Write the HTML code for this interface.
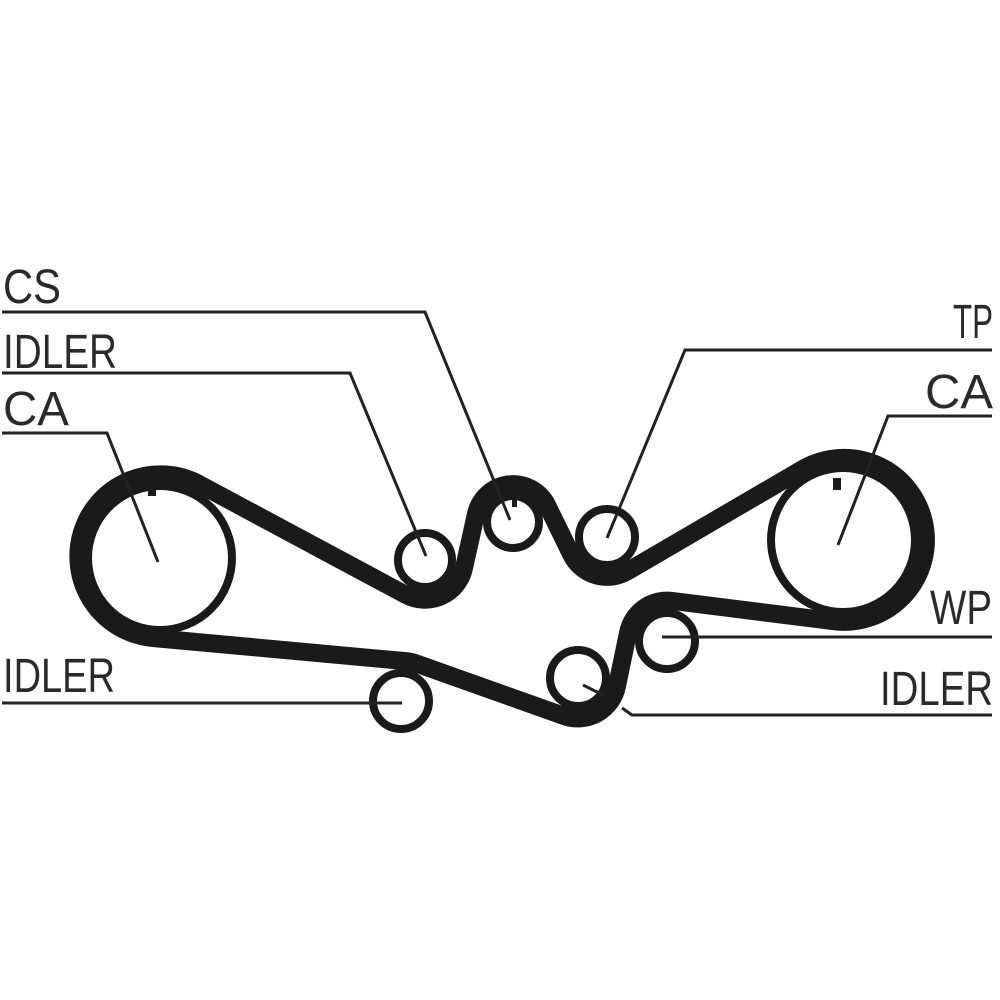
<!DOCTYPE html>
<html><head><meta charset="utf-8"><style>
html,body{margin:0;padding:0;background:#fff;}
svg{display:block;}
text{font-family:"Liberation Sans",sans-serif;font-size:48px;fill:#2a2a2a;}
</style></head><body>
<svg width="1000" height="1000" viewBox="0 0 1000 1000" xmlns="http://www.w3.org/2000/svg">
<!-- pulleys -->
<g fill="none" stroke="#1a1a1a" stroke-width="8">
<circle cx="160" cy="558" r="72"/>
<circle cx="843" cy="540" r="72"/>
<circle cx="425" cy="560" r="27"/>
<circle cx="513" cy="522" r="26"/>
<circle cx="607" cy="537" r="28"/>
<circle cx="667" cy="641" r="28"/>
<circle cx="578" cy="678" r="28"/>
<circle cx="401" cy="701" r="28"/>
</g>
<!-- timing marks -->
<rect x="148" y="484" width="8" height="12" fill="#1a1a1a"/>
<rect x="833" y="478" width="8" height="12" fill="#1a1a1a"/>
<rect x="512" y="500" width="5" height="7" fill="#1a1a1a"/>
<!-- belt -->
<path fill="none" stroke="#1a1a1a" stroke-width="18" stroke-linejoin="round"
d="M199,484 L406,595 A40,40 0 0 0 464,568 L476,514 A38,38 0 0 1 547,505 L571,554 A40,40 0 0 0 628,571 L801,470 A82,82 0 1 1 832,621 L673,601 A40,40 0 0 0 628,633 L617,686 A40,40 0 0 1 564,716 L415,663 A40,40 0 0 0 404,661 L153,638 A82,82 0 1 1 199,484 Z"/>
<!-- leader lines -->
<g fill="none" stroke="#222" stroke-width="3">
<polyline points="2,312 425,312 510,520"/>
<polyline points="2,373 350,373 426,556"/>
<polyline points="2,433 107,433 158,562"/>
<polyline points="992,350 685,350 607,538"/>
<polyline points="992,416 888,416 838,545"/>
<polyline points="992,637 662,637"/>
<polyline points="583,685 605,696"/>
<polyline points="622,708 632,715 992,715"/>
<polyline points="2,703 402,703"/>
</g>
<!-- labels -->
<text x="3" y="303" textLength="58" lengthAdjust="spacingAndGlyphs">CS</text>
<text x="3" y="368" textLength="114" lengthAdjust="spacingAndGlyphs">IDLER</text>
<text x="3" y="425" textLength="66" lengthAdjust="spacingAndGlyphs">CA</text>
<text x="953" y="338" textLength="40" lengthAdjust="spacingAndGlyphs">TP</text>
<text x="925" y="408" textLength="68" lengthAdjust="spacingAndGlyphs">CA</text>
<text x="930" y="624" textLength="62" lengthAdjust="spacingAndGlyphs">WP</text>
<text x="3" y="692" textLength="112" lengthAdjust="spacingAndGlyphs">IDLER</text>
<text x="880" y="705" textLength="113" lengthAdjust="spacingAndGlyphs">IDLER</text>
</svg>
</body></html>
